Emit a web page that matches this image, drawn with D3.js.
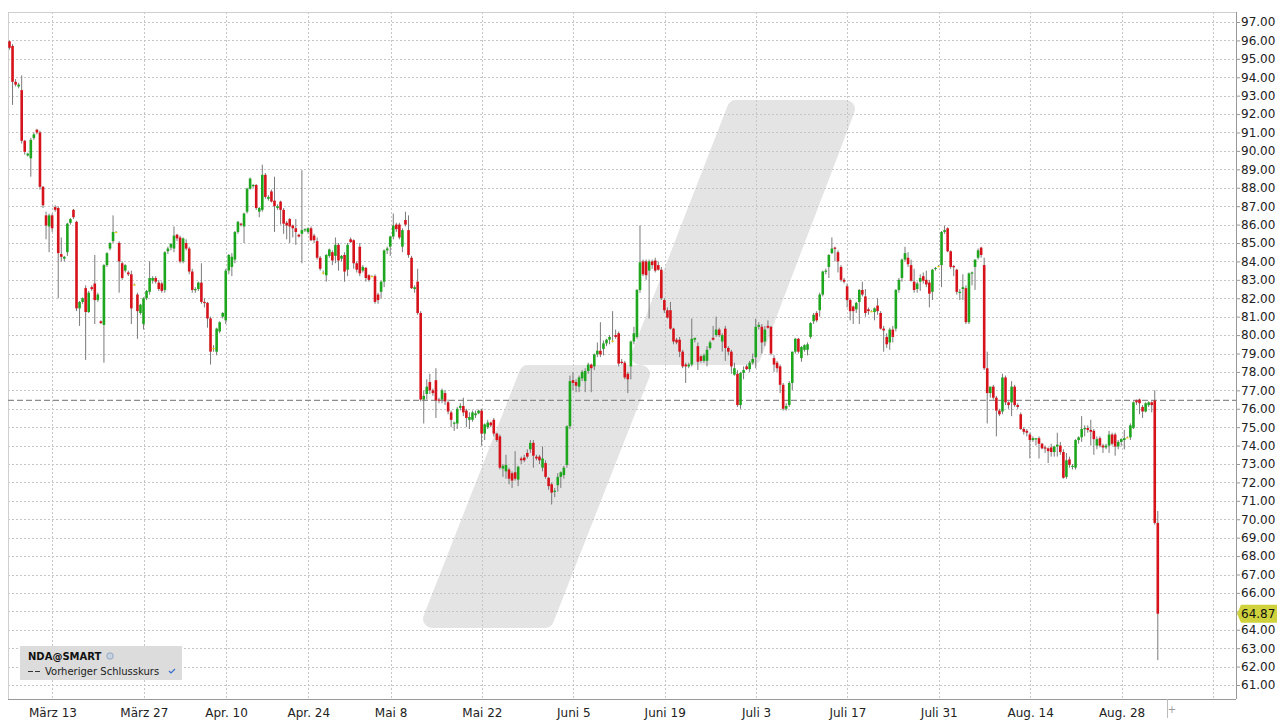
<!DOCTYPE html>
<html><head><meta charset="utf-8">
<script src="https://cdn.jsdelivr.net/npm/d3@7"></script>
<style>body{margin:0;background:#fff}svg{display:block}text{font-family:"DejaVu Sans",Verdana,sans-serif}</style>
</head><body><svg id="c" width="1280" height="720"></svg>
<script>
// ---- data (3 bars per trading day, Mar 6 – Aug 31) ----
const open=[95.95,95.7,93.75,93.5,93.3,90.55,89.75,89.6,90.7,91.15,91.0,88.05,86.5,85.9,86.5,
86.95,86.9,84.4,84.15,84.5,86.1,86.8,86.15,81.45,81.8,82.55,81.25,82.6,82.8,81.9,80.75,80.55,83.8,84.7,85.1,85.6,85.0,83.9,83.5,83.4,83.3,82.75,82.2,81.2,
80.6,82.0,82.35,82.95,83.1,82.85,82.8,82.45,84.55,84.75,84.7,85.45,85.3,84.0,85.0,84.7,83.45,82.45,82.5,82.85,81.8,81.75,80.9,79.3,79.1,80.2,81.0,
80.8,83.5,83.7,84.1,85.6,86.05,85.9,86.7,87.95,88.1,88.15,86.7,86.8,88.7,87.4,87.8,87.3,86.9,87.25,86.8,86.1,86.3,85.95,85.8,85.45,85.5,85.7,
85.6,85.8,85.4,85.1,84.2,83.4,83.25,84.3,84.5,84.3,84.9,84.15,84.35,83.55,85.2,85.15,83.9,84.8,83.5,83.65,83.25,83.2,83.2,82.2,82.35,82.9,84.6,
84.8,85.35,86.0,86.0,84.8,86.25,85.7,84.2,82.5,82.9,81.2,76.5,76.8,77.45,77.0,77.55,76.5,76.5,76.85,76.35,75.8,75.2,75.2,76.05,76.15,75.9,75.4,75.4,75.65,75.75,
75.9,74.65,75.0,75.25,75.4,74.65,74.5,72.75,72.6,72.7,72.5,72.55,72.15,73.3,73.35,73.6,73.8,74.15,73.4,73.4,72.8,73.05,72.25,71.9,71.5,71.85,72.3,72.4,72.95,75.05,
77.55,77.45,77.2,77.65,77.5,78.05,78.4,78.3,78.95,79.15,79.25,79.55,79.75,79.7,80.0,80.1,78.55,78.5,77.9,78.3,79.65,79.9,82.45,84.0,84.0,83.5,84.0,84.05,83.8,83.55,
81.9,81.35,81.35,80.35,79.75,79.75,79.1,78.4,78.3,78.4,79.75,79.4,78.85,78.6,78.6,79.3,79.85,80.0,80.3,79.65,80.35,79.3,79.1,77.85,77.9,76.2,77.95,78.3,78.15,78.5,
78.8,80.45,80.45,79.65,80.5,80.45,78.75,78.5,78.3,77.3,76.0,76.2,77.4,79.1,79.8,78.75,79.2,79.2,79.9,80.75,81.2,81.35,82.2,83.45,83.7,84.45,84.75,84.5,83.7,83.0,
82.65,81.9,81.55,81.4,81.8,82.45,82.1,81.4,81.3,81.25,81.6,81.2,80.35,79.9,79.6,80.3,80.35,82.45,83.1,84.1,84.2,83.8,82.9,82.5,82.9,83.2,83.0,82.85,82.35,83.6,
83.75,83.8,85.6,85.8,84.55,83.75,83.55,82.3,82.5,82.55,80.7,83.35,83.7,84.2,84.75,83.8,78.2,76.85,77.2,76.6,75.9,75.85,77.7,76.35,76.35,77.2,76.2,75.7,74.9,74.8,
74.6,74.3,74.35,74.4,74.1,73.9,73.85,73.9,73.65,73.95,74.0,73.65,72.3,73.25,72.85,72.8,74.3,74.45,74.9,74.95,74.85,74.8,74.0,74.4,74.0,73.9,74.0,74.6,74.6,73.95,
74.2,74.3,74.45,74.45,74.95,76.45,76.5,76.1,75.85,76.2,76.35,76.45,69.8];
const high=[96.0,95.8,93.9,93.7,94.1,90.6,89.9,90.7,91.0,91.2,91.1,88.1,86.7,86.6,86.6,
87.05,87.0,85.3,84.3,86.1,86.35,86.85,86.2,81.85,82.05,82.7,82.4,82.7,84.35,82.3,80.8,83.85,84.5,85.05,86.5,85.65,85.1,84.0,83.85,83.5,83.5,82.8,82.3,81.7,
82.05,82.45,84.0,83.2,83.2,83.0,82.9,84.55,84.8,85.0,85.9,85.5,85.4,85.3,85.2,84.8,83.6,82.6,82.9,83.9,82.0,81.8,81.0,79.45,80.4,80.75,81.25,
83.6,84.4,84.45,85.65,86.2,86.1,86.65,88.0,88.55,88.2,88.2,86.95,89.25,88.8,87.6,87.9,88.6,87.1,87.3,86.9,86.2,86.35,86.0,86.3,85.5,88.95,85.8,
85.85,85.9,85.5,85.3,84.3,83.5,84.4,84.7,84.6,85.3,85.0,84.35,84.5,85.0,85.3,85.2,84.0,85.0,83.8,83.7,83.3,83.25,83.3,82.3,82.95,84.65,84.8,
85.4,86.6,86.1,86.1,85.8,86.7,86.5,84.3,82.7,83.6,81.3,77.0,77.6,77.9,77.1,78.2,76.6,77.1,77.0,76.5,75.9,75.3,76.1,76.3,76.6,76.0,75.8,75.9,75.9,75.95,
76.0,75.2,75.4,75.3,75.5,74.7,74.6,73.0,73.5,72.8,72.6,73.7,72.9,73.4,73.5,73.8,74.3,74.3,73.5,73.5,73.95,73.2,72.3,72.0,71.7,72.5,72.6,72.9,75.1,77.8,
78.0,77.6,77.8,78.1,78.2,78.5,78.45,79.0,79.6,80.7,79.7,79.8,80.0,81.3,80.3,80.2,78.7,78.6,78.0,79.7,80.45,82.5,85.95,84.1,84.1,84.1,84.1,84.2,84.0,83.7,
82.0,81.5,81.8,80.4,79.85,79.9,79.2,78.5,78.5,80.9,79.85,79.6,78.9,79.0,79.4,79.7,80.5,81.0,80.4,80.1,80.5,79.4,79.2,78.5,78.1,78.0,78.3,78.4,78.6,79.0,
80.9,80.7,80.6,80.5,80.8,80.5,78.9,78.6,78.4,77.4,76.3,77.5,79.1,79.85,79.85,79.4,79.5,79.6,80.7,81.2,81.3,82.3,83.5,83.6,84.4,85.3,84.8,84.6,83.8,83.1,
82.8,82.0,81.6,81.8,82.5,82.9,82.5,81.5,81.35,81.5,82.0,81.3,80.5,80.1,80.4,80.5,82.5,83.1,84.15,84.8,84.5,84.1,83.6,82.9,83.3,83.4,83.5,83.0,83.6,83.7,
83.8,85.65,85.95,85.85,84.6,83.8,83.6,82.5,83.3,82.7,83.4,83.45,84.1,84.7,84.8,84.2,79.1,77.2,77.3,76.7,76.0,77.9,77.8,76.4,77.5,77.3,76.3,75.8,75.0,74.9,
74.7,74.5,74.4,74.5,74.15,74.0,73.9,74.1,74.0,74.7,74.2,73.8,73.6,73.4,73.0,74.35,74.5,75.6,75.1,75.1,75.4,74.9,74.5,74.5,74.1,74.1,74.8,74.7,74.7,74.3,
74.4,74.85,74.5,75.2,76.4,76.5,76.55,76.2,76.35,76.4,76.4,77.0,70.45];
const low=[95.5,92.5,93.5,93.4,90.4,89.8,89.7,88.6,90.6,90.9,87.9,86.9,85.2,84.5,85.6,
86.7,82.0,84.0,84.0,84.3,86.0,86.3,81.3,80.5,81.7,78.65,81.2,82.4,80.6,81.8,80.6,78.5,83.7,84.6,85.0,85.55,82.3,83.0,83.4,83.2,80.6,82.7,79.8,81.1,
80.3,81.9,82.2,82.8,82.8,82.4,82.3,82.3,84.4,84.6,84.5,85.1,83.9,83.9,84.6,83.3,82.3,82.3,82.4,81.7,81.5,80.4,78.4,79.1,78.9,80.1,80.9,
80.6,83.3,83.2,83.9,85.5,85.9,85.0,86.6,87.9,88.0,86.8,86.4,86.7,87.4,87.3,87.2,85.6,86.8,86.0,85.5,85.2,85.0,85.3,84.9,85.3,83.9,85.6,
85.5,85.1,85.0,84.1,83.5,83.3,82.9,84.2,83.8,83.9,83.5,84.0,82.9,83.2,85.0,83.6,83.4,83.2,83.4,82.9,82.9,83.15,81.7,81.7,82.0,82.6,84.4,
84.3,85.2,85.6,85.2,84.5,85.9,84.2,82.5,82.3,81.1,76.4,75.2,76.5,76.8,76.7,75.5,76.3,76.3,76.2,75.7,75.0,74.8,74.9,75.9,75.6,75.0,74.9,75.3,75.5,75.7,
74.0,74.3,74.9,75.0,74.5,74.2,72.7,72.3,72.2,71.9,71.7,72.1,71.8,73.0,73.1,73.3,73.6,72.8,73.2,73.0,72.6,72.2,71.6,70.8,71.2,71.5,71.7,72.2,72.8,74.9,
77.0,76.9,76.9,77.5,76.9,77.9,76.9,78.1,78.8,78.8,78.9,79.4,79.5,79.6,79.8,78.3,78.4,77.6,76.85,77.6,79.5,79.8,82.3,83.2,83.0,80.9,83.6,83.4,83.5,81.9,
81.2,80.9,80.3,79.5,79.5,78.8,78.2,77.4,78.2,78.3,79.6,78.1,78.5,78.5,78.3,79.2,79.7,79.9,79.9,79.1,78.6,78.9,77.9,77.8,76.1,76.0,77.6,78.1,78.0,78.4,
78.2,80.3,79.0,79.4,80.35,78.9,78.0,78.0,76.85,75.9,75.9,76.1,77.0,79.0,79.0,78.55,79.1,78.9,79.8,80.6,80.7,81.0,82.1,83.3,83.1,84.4,84.0,83.4,82.9,82.8,
81.5,80.8,80.6,81.2,80.6,82.1,81.0,81.1,81.25,80.8,81.1,80.3,79.1,79.3,79.2,79.6,80.2,82.3,82.9,84.0,83.7,82.9,82.3,82.3,82.4,82.8,82.6,81.5,81.9,83.5,
83.7,82.6,85.5,84.5,83.6,83.2,82.2,81.9,81.9,80.6,80.6,82.7,82.45,84.1,84.2,78.1,75.2,76.6,76.5,74.5,75.6,75.7,76.2,76.0,75.6,76.1,76.0,74.85,74.6,74.5,
73.3,74.2,74.0,73.3,73.8,73.6,73.05,73.4,73.4,73.4,73.5,72.2,72.2,72.8,72.7,72.7,74.1,74.2,74.5,74.7,74.0,73.5,73.8,73.9,73.6,73.8,73.6,74.0,73.45,73.8,
74.0,73.8,74.4,74.3,74.9,76.2,75.7,75.5,75.8,76.1,75.8,69.7,62.35];
const close=[95.6,93.75,93.6,93.6,90.55,89.95,89.85,90.6,90.9,91.0,88.05,87.05,85.95,86.5,85.8,
86.8,84.45,84.25,84.25,86.05,86.3,86.4,81.45,81.8,82.0,81.25,82.3,82.5,81.9,82.2,80.65,83.8,84.45,85.0,85.6,85.6,84.0,83.1,83.8,83.3,81.45,82.75,81.3,81.65,
82.0,82.4,83.1,83.1,82.9,82.5,82.4,84.5,84.7,84.95,85.4,85.25,84.0,85.25,84.7,83.45,82.45,82.5,82.85,81.8,81.75,80.9,79.1,79.3,80.35,80.7,81.2,
83.5,84.35,84.25,85.6,86.15,86.0,86.6,87.95,88.5,88.15,86.9,86.9,88.7,87.5,87.5,87.25,87.0,87.0,86.8,86.05,85.95,85.9,85.8,85.6,85.35,85.7,85.75,
85.8,85.15,85.15,84.2,83.6,83.4,84.35,84.65,84.05,84.9,84.05,84.3,83.45,84.9,85.05,83.9,83.55,83.35,83.7,83.1,83.0,83.2,81.8,81.9,82.9,84.6,84.7,
85.35,85.95,85.75,85.3,85.7,86.0,84.35,82.55,82.6,81.2,76.5,76.7,77.2,77.0,76.85,76.45,76.45,77.0,76.4,75.85,75.4,75.25,76.0,76.15,75.8,75.5,75.55,75.8,75.75,75.9,
74.65,75.15,75.25,75.1,74.65,74.3,72.8,72.9,72.95,72.2,72.1,72.2,72.85,73.2,73.2,73.4,74.15,73.45,73.3,73.2,73.3,72.3,71.8,71.45,71.55,72.3,72.55,72.8,75.05,77.5,
77.4,77.25,77.7,78.0,78.05,78.4,78.2,78.95,79.15,78.95,79.55,79.75,79.9,79.7,79.9,78.45,78.5,77.7,77.6,79.65,80.1,82.45,83.95,83.3,83.25,84.0,83.8,83.5,83.55,82.0,
81.35,80.95,80.35,79.65,79.6,79.1,78.3,78.3,78.4,79.8,79.85,78.55,78.6,78.9,79.2,79.6,79.75,80.3,80.0,80.0,79.3,79.1,78.3,78.2,76.2,77.95,78.1,78.15,78.5,78.7,
80.45,80.55,79.6,80.3,80.4,79.0,78.4,78.2,77.3,76.0,76.15,77.4,79.1,79.8,79.1,79.35,79.45,79.5,80.65,81.1,80.8,82.2,83.45,83.5,84.35,84.7,84.7,84.0,83.0,82.9,
81.9,81.3,81.3,81.75,82.45,82.2,81.2,81.3,81.3,81.45,81.3,80.35,80.25,79.5,80.3,79.9,82.45,83.0,84.1,84.45,83.85,82.95,82.45,82.8,83.1,82.95,82.75,82.25,83.55,83.65,
83.75,85.6,85.7,84.55,83.7,83.7,82.35,82.35,82.6,80.7,83.35,83.4,84.1,84.6,84.35,78.2,76.85,77.2,76.6,75.9,75.7,77.7,76.35,76.2,77.2,76.2,76.1,74.9,74.75,74.7,
74.3,74.4,74.4,74.1,73.85,73.85,73.7,73.65,73.95,74.05,73.65,72.25,73.2,72.95,72.9,74.3,74.45,74.9,74.95,74.85,74.75,74.35,74.35,74.0,73.9,74.0,74.6,74.1,73.95,74.2,
74.35,74.4,74.45,75.1,76.35,76.35,76.3,75.85,76.3,76.35,76.2,69.8,64.87];

const barsPerDay=3;
const tickDays=[5,15,24,33,42,52,62,72,82,92,102,112,122,132];
const tickLabels=["März 13","März 27","Apr. 10","Apr. 24","Mai 8","Mai 22","Juni 5","Juni 19","Juli 3","Juli 17","Juli 31","Aug. 14","Aug. 28",""];
const priceMin=61, priceMax=97;
const prevClose=76.45;
const lastPrice=64.87;
const symbolName="NDA@SMART";
const legendLabel="Vorheriger Schlusskurs";

// ---- layout ----
const L=8,R=1236,T=12,B=699;
const svg=d3.select("#c");
const x=d3.scaleLinear().domain([0,open.length-1]).range([9.5,1157.8]);
const y=d3.scaleLinear().domain([priceMin,priceMax]).range([685,22]);
const tickIdx=d=>barsPerDay*d-0.9;
const priceTicks=d3.range(priceMin,priceMax+1,1);

// watermark
const wm=svg.append("g").attr("fill","#e4e4e4").attr("stroke","#e4e4e4").attr("stroke-width",18).attr("stroke-linejoin","round");
const upper=[[736,109],[846,109],[752,356],[640,356]];
const lower=[[528,374],[641,374],[545,619],[432,619]];
[upper,lower].forEach(p=>wm.append("path").attr("d",d3.line()(p)+"Z"));

// grid
const grid=svg.append("g").attr("stroke","#c6c6c6").attr("stroke-width",1).attr("stroke-dasharray","2,2");
priceTicks.forEach(v=>grid.append("line").attr("x1",L).attr("x2",R).attr("y1",Math.round(y(v))+0.5).attr("y2",Math.round(y(v))+0.5));
tickDays.forEach(d=>{const xx=Math.round(x(tickIdx(d)))+0.5;grid.append("line").attr("x1",xx).attr("x2",xx).attr("y1",T).attr("y2",B);});

// frame
svg.append("line").attr("x1",L+0.5).attr("x2",L+0.5).attr("y1",T).attr("y2",B).attr("stroke","#cfcfcf");
svg.append("line").attr("x1",L).attr("x2",R).attr("y1",T+0.5).attr("y2",T+0.5).attr("stroke","#cfcfcf");

// previous close line
svg.append("line").attr("x1",L).attr("x2",R).attr("y1",y(prevClose)).attr("y2",y(prevClose))
  .attr("stroke","#8c8c8c").attr("stroke-width",1.3).attr("stroke-dasharray","6,3");

// candles
const bars=open.map((o,i)=>({i,o,h:high[i],l:low[i],c:close[i]}));
const cg=svg.append("g");
cg.selectAll("line.w").data(bars).join("line").attr("class","w")
  .attr("x1",d=>x(d.i)).attr("x2",d=>x(d.i)).attr("y1",d=>y(d.h)).attr("y2",d=>y(d.l))
  .attr("stroke","#7a7a7a").attr("stroke-width",1);
const bw=2.6;
cg.selectAll("rect.b").data(bars).join("rect").attr("class","b")
  .attr("x",d=>x(d.i)-bw/2).attr("width",bw)
  .attr("y",d=>Math.min(y(d.o),y(d.c)))
  .attr("height",d=>Math.max(1.2,Math.abs(y(d.o)-y(d.c))))
  .attr("fill",d=>Math.abs(d.o-d.c)<0.02?"#e8d21a":(d.c>d.o?"#1fa61f":"#d6121b"));

// y axis
const ya=svg.append("g").attr("transform",`translate(${R},0)`)
  .call(d3.axisRight(y).tickValues(priceTicks).tickFormat(d3.format(".2f")).tickSize(4).tickSizeOuter(0).tickPadding(1));
ya.select(".domain").remove();
ya.selectAll(".tick line").attr("stroke","#999");
ya.selectAll("text").attr("font-size",12).attr("fill","#222").attr("font-family","DejaVu Sans");
svg.append("line").attr("x1",R+0.5).attr("x2",R+0.5).attr("y1",T).attr("y2",B).attr("stroke","#999");

// x axis
const xa=svg.append("g").attr("transform",`translate(0,${B})`)
  .call(d3.axisBottom(x).tickValues(tickDays.map(tickIdx)).tickFormat((d,i)=>tickLabels[i]).tickSize(0).tickPadding(9));
xa.select(".domain").remove();
xa.selectAll("text").attr("font-size",12).attr("fill","#222").attr("font-family","DejaVu Sans");
svg.append("line").attr("x1",L).attr("x2",R).attr("y1",B+0.5).attr("y2",B+0.5).attr("stroke","#999");
svg.append("line").attr("x1",1167.5).attr("x2",1167.5).attr("y1",B).attr("y2",718).attr("stroke","#bbb");
svg.append("text").attr("x",1172).attr("y",713).attr("font-size",10).attr("fill","#999").attr("text-anchor","middle").text("+");

// last price tag
const ly=y(lastPrice);
svg.append("path").attr("d",`M${R+1},${ly} L${R+5},${ly-9} L1277,${ly-9} L1277,${ly+9} L${R+5},${ly+9} Z`).attr("fill","#cfd23c");
svg.append("text").attr("x",R+5).attr("y",ly+4.5).attr("font-size",12).attr("fill","#111").text(lastPrice.toFixed(2));

// legend
const lg=svg.append("g");
lg.append("rect").attr("x",20).attr("y",646).attr("width",162).attr("height",34).attr("fill","#dcdcdc");
lg.append("text").attr("x",28).attr("y",660).attr("font-size",10).attr("font-weight","bold").attr("fill","#111").text(symbolName);
lg.append("circle").attr("cx",110).attr("cy",656).attr("r",3.2).attr("fill","#c8d4e0").attr("stroke","#7f9cba").attr("stroke-width",0.8);
lg.append("line").attr("x1",28).attr("x2",42).attr("y1",671.5).attr("y2",671.5).attr("stroke","#333").attr("stroke-width",1.2).attr("stroke-dasharray","5,2");
lg.append("text").attr("x",45).attr("y",675).attr("font-size",10).attr("fill","#222").text(legendLabel);
lg.append("path").attr("d","M169,671 l2,2 l4,-4").attr("fill","none").attr("stroke","#3a6fd0").attr("stroke-width",1.2);
</script></body></html>
